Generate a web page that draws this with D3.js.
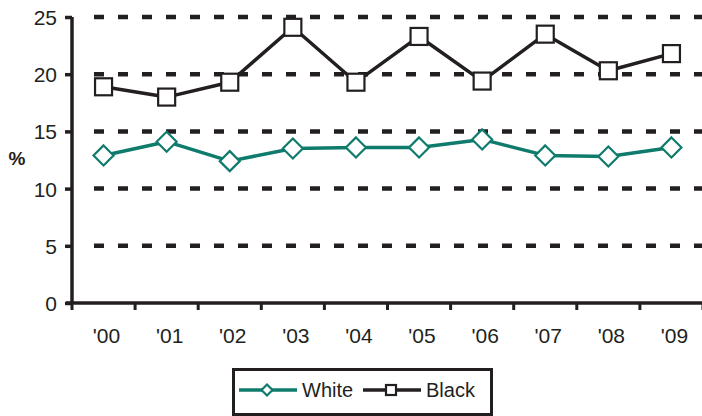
<!DOCTYPE html>
<html>
<head>
<meta charset="utf-8">
<script src="https://cdn.jsdelivr.net/npm/d3@7"></script>
<style>
  html, body { margin: 0; padding: 0; background: #fff; }
  svg { display: block; font-family: Arial, "Liberation Sans", sans-serif; }
</style>
</head>
<body>
<svg id="chart" width="702" height="416"></svg>
<script>
// Share of population (%) by year
const years = ["'00", "'01", "'02", "'03", "'04", "'05", "'06", "'07", "'08", "'09"];
const whiteValues = [12.9, 14.1, 12.4, 13.5, 13.6, 13.6, 14.3, 12.9, 12.8, 13.6];
const blackValues = [18.9, 18.0, 19.3, 24.1, 19.3, 23.3, 19.4, 23.5, 20.3, 21.8];
const yTicks = [0, 5, 10, 15, 20, 25];

const series = [
  { name: "White", values: whiteValues, color: "#0f7b6c", width: 3.5, marker: "diamond" },
  { name: "Black", values: blackValues, color: "#231f20", width: 3.5, marker: "square" }
];

const ink = "#231f20";
const svg = d3.select("#chart");

const x = d3.scaleBand().domain(years).range([72, 703]);
const y = d3.scaleLinear().domain([0, 25]).range([303, 17]);

// dashed horizontal gridlines
svg.append("g").selectAll("line")
  .data(yTicks.filter(d => d > 0))
  .join("line")
  .attr("x1", 94).attr("x2", 702)
  .attr("y1", d => y(d)).attr("y2", d => y(d))
  .attr("stroke", ink).attr("stroke-width", 4.5)
  .attr("stroke-dasharray", "10,14");

// y axis
const yAxis = svg.append("g")
  .attr("transform", "translate(72,0)")
  .call(d3.axisLeft(y).tickValues(yTicks).tickSize(7).tickPadding(8));
yAxis.select(".domain").attr("stroke", ink).attr("stroke-width", 3.5)
  .attr("d", `M0,${y(25)}V${y(0)}`);
yAxis.selectAll(".tick line").attr("stroke", ink).attr("stroke-width", 3.5);
yAxis.selectAll(".tick text").attr("fill", ink).attr("font-size", 21)
  .attr("dy", "0.36em");

// x axis with ticks at band boundaries
const xAxis = svg.append("g").attr("transform", `translate(0,${y(0)})`);
xAxis.append("line")
  .attr("x1", 66).attr("x2", 703)
  .attr("stroke", ink).attr("stroke-width", 3.5);
xAxis.selectAll("line.tk")
  .data(years.concat(["end"]))
  .join("line").attr("class", "tk")
  .attr("x1", (d, i) => 72 + i * x.step())
  .attr("x2", (d, i) => 72 + i * x.step())
  .attr("y1", 0).attr("y2", 7)
  .attr("stroke", ink).attr("stroke-width", 3);
xAxis.selectAll("text")
  .data(years)
  .join("text")
  .attr("x", d => x(d) + x.bandwidth() / 2 + 3)
  .attr("y", 40)
  .attr("text-anchor", "middle")
  .attr("font-size", 21)
  .attr("fill", ink)
  .text(d => d);

// y axis title
svg.append("text")
  .attr("x", 17).attr("y", 158)
  .attr("text-anchor", "middle")
  .attr("dominant-baseline", "central")
  .attr("font-size", 19).attr("font-weight", "bold")
  .attr("fill", ink)
  .text("%");

const cx = d => x(d) + x.bandwidth() / 2;

function drawMarker(g, type, color, size) {
  if (type === "diamond") {
    const r = size;
    g.append("path")
      .attr("d", `M0,${-r}L${r},0L0,${r}L${-r},0Z`)
      .attr("fill", "#fff").attr("stroke", color).attr("stroke-width", 2.2);
  } else {
    const s = size;
    g.append("rect")
      .attr("x", -s).attr("y", -s).attr("width", 2 * s).attr("height", 2 * s)
      .attr("fill", "#fff").attr("stroke", color).attr("stroke-width", 2.2);
  }
}

series.forEach(s => {
  const pts = years.map((yr, i) => [cx(yr), y(s.values[i])]);
  svg.append("path")
    .attr("d", d3.line()(pts))
    .attr("fill", "none")
    .attr("stroke", s.color)
    .attr("stroke-width", s.width)
    .attr("stroke-linejoin", "round");
  pts.forEach(p => {
    const g = svg.append("g").attr("transform", `translate(${p[0]},${p[1]})`);
    drawMarker(g, s.marker, s.color, s.marker === "diamond" ? 10 : 8.5);
  });
});

// legend
const legend = svg.append("g");
legend.append("rect")
  .attr("x", 233.5).attr("y", 369.5).attr("width", 258).attr("height", 45)
  .attr("fill", "#fff").attr("stroke", ink).attr("stroke-width", 3);

const legendItems = [
  { s: series[0], x0: 239 },
  { s: series[1], x0: 363 }
];
legendItems.forEach(({ s, x0 }) => {
  const ly = 390;
  legend.append("line")
    .attr("x1", x0).attr("x2", x0 + 58)
    .attr("y1", ly).attr("y2", ly)
    .attr("stroke", s.color).attr("stroke-width", 3.5);
  const g = legend.append("g").attr("transform", `translate(${x0 + 28},${ly})`);
  drawMarker(g, s.marker, s.color, s.marker === "diamond" ? 5.5 : 5);
  legend.append("text")
    .attr("x", x0 + 63).attr("y", ly)
    .attr("dominant-baseline", "central")
    .attr("font-size", 20)
    .attr("fill", ink)
    .text(s.name);
});
</script>
</body>
</html>
